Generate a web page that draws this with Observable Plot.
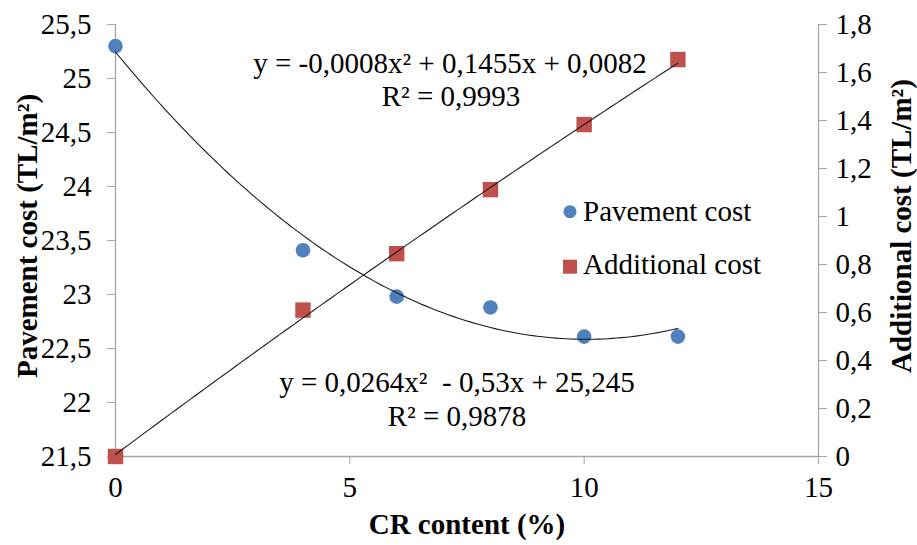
<!DOCTYPE html>
<html><head><meta charset="utf-8">
<script src="https://cdn.jsdelivr.net/npm/d3@7"></script>
<script src="https://cdn.jsdelivr.net/npm/@observablehq/plot@0.6"></script>
<style>
body{margin:0;background:#fff;}
#chart{position:relative;width:917px;height:545px;}
svg text{font-family:"Liberation Serif","Times New Roman",serif;}
</style></head><body><div id="chart"></div>
<script>
const crContent = [0, 4, 6, 8, 10, 12];
const pavementCost = [25.30, 23.41, 22.98, 22.88, 22.61, 22.61];
const additionalCost = [0, 0.61, 0.845, 1.112, 1.383, 1.654];
const xTicks = [0, 5, 10, 15];
const leftTicks = [21.5, 22, 22.5, 23, 23.5, 24, 24.5, 25, 25.5];
const rightTicks = [0, 0.2, 0.4, 0.6, 0.8, 1, 1.2, 1.4, 1.6, 1.8];
// trendline coefficients [c0, c1, c2] as printed on the chart
const pavementFit = [25.245, -0.53, 0.0264];
const additionalFit = [0.0082, 0.1455, -0.0008];
const pavementEq = ["y = 0,0264x²  - 0,53x + 25,245", "R² = 0,9878"];
const additionalEq = ["y = -0,0008x² + 0,1455x + 0,0082", "R² = 0,9993"];
const seriesNames = ["Pavement cost", "Additional cost"];
const axisTitles = ["CR content (%)", "Pavement cost (TL/m²)", "Additional cost (TL/m²)"];

const leftDomain = [21.5, 25.5], rightDomain = [0, 1.8];
const toLeft = v => leftDomain[0] + (v - rightDomain[0]) * (leftDomain[1] - leftDomain[0]) / (rightDomain[1] - rightDomain[0]);
const fromLeft = y => rightDomain[0] + (y - leftDomain[0]) * (rightDomain[1] - rightDomain[0]) / (leftDomain[1] - leftDomain[0]);
const fmt = d => String(+d.toFixed(2)).replace(".", ",");

const pav = crContent.map((x, i) => ({x, y: pavementCost[i]}));
const add = crContent.map((x, i) => ({x, y: toLeft(additionalCost[i])}));
const xs = d3.range(0, 12.0001, 0.1);
const poly = (c, x) => c[0] + c[1] * x + c[2] * x * x;
const pavCurve = xs.map(x => ({x, y: poly(pavementFit, x)}));
const addCurve = xs.map(x => ({x, y: toLeft(poly(additionalFit, x))}));

const axisGray = "#a6a6a6";
const plot = Plot.plot({
  width: 917, height: 545,
  marginLeft: 115, marginRight: 99, marginTop: 24, marginBottom: 89,
  x: {domain: [0, 15]},
  y: {domain: leftDomain},
  style: {fontFamily: "Liberation Serif", fontSize: "29px", color: "black", background: "white", overflow: "visible"},
  marks: [
    Plot.ruleY([leftDomain[0]], {stroke: axisGray, strokeWidth: 1.3}),
    Plot.ruleX([0], {stroke: axisGray, strokeWidth: 1.3}),
    Plot.ruleX([15], {stroke: axisGray, strokeWidth: 1.3}),
    Plot.axisX(xTicks, {tickSize: 8, tickPadding: 12, stroke: axisGray, fill: "black", fontSize: 29, label: null, tickFormat: fmt}),
    Plot.axisY(leftTicks, {anchor: "left", tickSize: 8, tickPadding: 16, stroke: axisGray, fill: "black", fontSize: 29, label: null, tickFormat: fmt}),
    Plot.axisY(rightTicks.map(toLeft), {anchor: "right", tickSize: 8, tickPadding: 9, stroke: axisGray, fill: "black", fontSize: 29, label: null, tickFormat: d => fmt(Math.round(fromLeft(d) * 10) / 10)}),
    Plot.dot(pav, {x: "x", y: "y", r: 7.3, fill: "#4F81BD", symbol: "circle"}),
    Plot.dot(add, {x: "x", y: "y", r: 8.7, fill: "#C0504D", symbol: "square"}),
    Plot.line(pavCurve, {x: "x", y: "y", stroke: "#1a1a1a", strokeWidth: 1.1}),
    Plot.line(addCurve, {x: "x", y: "y", stroke: "#1a1a1a", strokeWidth: 1.1})
  ]
});
document.getElementById("chart").appendChild(plot);

const svg = d3.select(plot);
const T = (x, y, s, opts = {}) => {
  const t = svg.append("text").attr("x", x).attr("y", y).text(s)
    .attr("font-family", "Liberation Serif").attr("font-size", opts.size || 29)
    .attr("fill", "black").attr("text-anchor", opts.anchor || "middle")
    .style("white-space", "pre");
  if (opts.bold) t.attr("font-weight", "bold");
  if (opts.rotate) t.attr("transform", `rotate(-90 ${x} ${y})`);
  return t;
};
// equations
T(450, 73, additionalEq[0]);
T(451, 106, additionalEq[1]);
T(457, 392, pavementEq[0]);
T(457, 426, pavementEq[1]);
// axis titles
T(467, 534, axisTitles[0], {bold: true});
T(37, 236, axisTitles[1], {bold: true, rotate: true});
T(911, 226, axisTitles[2], {bold: true, rotate: true});
// legend
svg.append("circle").attr("cx", 570).attr("cy", 211.7).attr("r", 6.5).attr("fill", "#4F81BD");
T(583, 221, seriesNames[0], {anchor: "start"});
svg.append("rect").attr("x", 563).attr("y", 259.7).attr("width", 14).attr("height", 14).attr("fill", "#C0504D");
T(583, 274, seriesNames[1], {anchor: "start"});
</script></body></html>
